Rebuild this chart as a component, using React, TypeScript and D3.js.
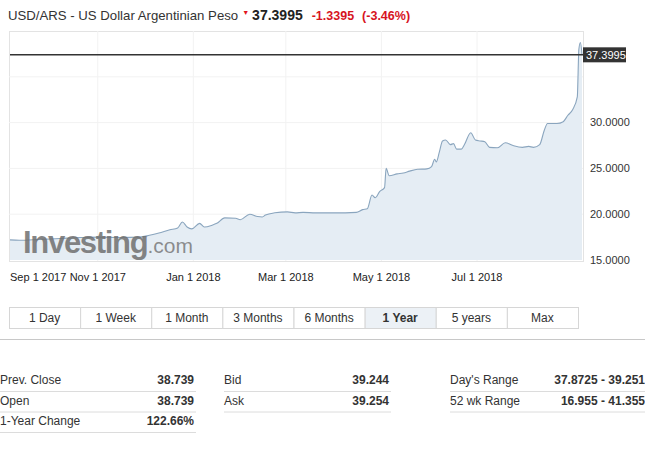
import React from 'react';
import * as d3 from 'd3';

const dates = [
  '2017-09-06','2017-09-12','2017-09-25','2017-10-08','2017-10-21','2017-11-02','2017-11-15','2017-11-28',
  '2017-12-04','2017-12-10','2017-12-17','2017-12-22','2017-12-25','2017-12-28','2017-12-31',
  '2018-01-05','2018-01-08','2018-01-13','2018-01-16','2018-01-21','2018-01-28','2018-01-31',
  '2018-02-06','2018-02-11','2018-02-14','2018-02-16','2018-02-22',
  '2018-03-02','2018-03-07','2018-03-12','2018-03-20','2018-03-29',
  '2018-04-08','2018-04-15','2018-04-19','2018-04-22','2018-04-25','2018-04-27','2018-04-30',
  '2018-05-03','2018-05-04','2018-05-06','2018-05-11','2018-05-15','2018-05-19','2018-05-24','2018-05-30',
  '2018-06-02','2018-06-04','2018-06-05','2018-06-07','2018-06-09','2018-06-11','2018-06-14','2018-06-16',
  '2018-06-18','2018-06-21','2018-06-23','2018-06-27','2018-06-30',
  '2018-07-03','2018-07-06','2018-07-09','2018-07-14','2018-07-19','2018-07-24','2018-07-30',
  '2018-08-03','2018-08-06','2018-08-10','2018-08-13','2018-08-15','2018-08-21','2018-08-25','2018-08-28','2018-08-31',
  '2018-09-03','2018-09-04','2018-09-05','2018-09-06'
];
const values = [
  17.2,17.15,17.25,17.35,17.45,17.5,17.45,17.5,
  17.7,17.95,18.3,18.5,19.15,18.6,18.4,
  19.0,18.6,18.8,19.0,19.6,19.55,19.4,
  20.0,19.75,19.7,19.9,20.15,
  20.25,20.15,20.2,20.15,20.15,
  20.15,20.2,20.5,20.6,22.1,21.8,22.5,
  22.9,25.0,24.2,24.4,24.5,24.7,24.9,24.95,
  25.2,26.0,25.7,26.8,28.0,28.1,27.6,27.7,
  27.1,27.1,27.6,28.9,28.1,
  28.0,27.9,27.3,27.25,27.8,27.5,27.3,
  27.4,27.3,27.6,29.2,29.9,29.9,30.1,30.8,31.4,
  32.8,38.0,38.74,37.4
];

const xTickDates = ['2017-09-01','2017-11-01','2018-01-01','2018-03-01','2018-05-01','2018-07-01'];
const xTickLabels = ['Sep 1 2017','Nov 1 2017','Jan 1 2018','Mar 1 2018','May 1 2018','Jul 1 2018'];
const yTickValues = [15, 20, 25, 30];
const yGridValues = [20, 25, 30, 35];
const lastPrice = 37.3995;
const lastPriceLabel = '37.3995';

const titleText = 'USD/ARS - US Dollar Argentinian Peso';
const priceText = '37.3995';
const changeText = '-1.3395';
const changePctText = '(-3.46%)';

const rangeButtons = ['1 Day','1 Week','1 Month','3 Months','6 Months','1 Year','5 years','Max'];
const selectedRange = '1 Year';

const col1Labels = ['Prev. Close','Open','1-Year Change'];
const col1Values = ['38.739','38.739','122.66%'];
const col2Labels = ['Bid','Ask'];
const col2Values = ['39.244','39.254'];
const col3Labels = ["Day's Range",'52 wk Range'];
const col3Values = ['37.8725 - 39.251','16.955 - 41.355'];

const FONT = 'Arial, "Liberation Sans", Helvetica, sans-serif';

export default function App() {
  const parse = d3.timeParse('%Y-%m-%d');
  const data = dates.map((d, i) => ({ date: parse(d) as Date, value: values[i] }));

  const plot = { left: 9, right: 583, top: 31, bottom: 261 };
  const x = d3.scaleTime()
    .domain([data[0].date, data[data.length - 1].date])
    .range([plot.left + 1, plot.right - 1]);
  const y = d3.scaleLinear().domain([15, 40]).range([260, plot.top]);

  const line = d3.line<any>().x(d => x(d.date)).y(d => y(d.value)).curve(d3.curveMonotoneX);
  const area = d3.area<any>().x(d => x(d.date)).y0(y(15)).y1(d => y(d.value)).curve(d3.curveMonotoneX);

  const ticks = xTickDates.map((d, i) => ({ date: parse(d) as Date, label: xTickLabels[i] }));

  const btnX = d3.scaleBand().domain(rangeButtons).range([9, 578]);

  const rowY = (i: number) => 384 + i * 20.5;

  const renderCol = (labels: string[], vals: string[], lx: number, rx: number, lineEnd: number) =>
    labels.map((l, i) => (
      <g key={l}>
        <text x={lx} y={rowY(i)} fontSize={12} fill="#333" fontFamily={FONT}>{l}</text>
        <text x={rx} y={rowY(i)} fontSize={12} fill="#333" fontWeight="bold" textAnchor="end" fontFamily={FONT}>{vals[i]}</text>
        <line x1={lx} x2={lineEnd} y1={rowY(i) + 7.5} y2={rowY(i) + 7.5} stroke="#dcdcdc" />
      </g>
    ));

  return (
    <svg width={645} height={459} style={{ position: 'absolute', left: 0, top: 0, background: '#fff' }} fontFamily={FONT}>
      {/* Title */}
      <text x={8} y={20} fontFamily={FONT}>
        <tspan fontSize={13.2} fill="#333">{titleText}</tspan>
        <tspan fontSize={7} fill="#e2141e" dx={4} dy={-5}>▼</tspan>
        <tspan fontSize={14} fill="#222" fontWeight="bold" dx={3} dy={5}>{priceText}</tspan>
        <tspan fontSize={12.5} fill="#d7141e" fontWeight="bold" dx={9}>{changeText}</tspan>
        <tspan fontSize={12.5} fill="#d7141e" fontWeight="bold" dx={8}>{changePctText}</tspan>
      </text>

      {/* Plot frame */}
      <rect x={plot.left + 0.5} y={plot.top + 0.5} width={plot.right - plot.left} height={plot.bottom - plot.top} fill="#fff" stroke="#e3e3e3" />
      {yGridValues.map(v => (
        <line key={v} x1={plot.left} x2={plot.right} y1={y(v)} y2={y(v)} stroke="#f2f2f2" />
      ))}
      {ticks.filter(t => x(t.date) > plot.left + 2).map(t => (
        <line key={t.label} x1={x(t.date)} x2={x(t.date)} y1={plot.top} y2={plot.bottom} stroke="#f2f2f2" />
      ))}

      <path d={area(data) || ''} fill="#e5edf4" />
      <path d={line(data) || ''} fill="none" stroke="#8aa5be" strokeWidth={1.1} />

      {/* Watermark */}
      <text x={23} y={253} fontFamily={FONT} fill="#6f6f6f" fillOpacity={0.85}>
        <tspan fontSize={31} fontWeight="bold" letterSpacing={-1.3}>Investing</tspan>
        <tspan fontSize={21} fill="#7a7a7a">.com</tspan>
      </text>

      {/* last price line */}
      <line x1={plot.left + 1} x2={plot.right} y1={y(lastPrice)} y2={y(lastPrice)} stroke="#333" strokeWidth={1.5} />
      <rect x={plot.right} y={y(lastPrice) - 7.5} width={43} height={15} fill="#333" />
      <text x={plot.right + 3} y={y(lastPrice)} dy="0.35em" fontSize={11} fill="#fff" fontFamily={FONT}>{lastPriceLabel}</text>

      {/* y axis labels */}
      {yTickValues.map(v => (
        <text key={v} x={590} y={y(v)} dy="0.35em" fontSize={11} fill="#333" fontFamily={FONT}>{v.toFixed(4)}</text>
      ))}

      {/* x axis labels */}
      {ticks.map(t => {
        const px = x(t.date);
        const clamp = px < plot.left + 30;
        return (
          <text key={t.label} x={clamp ? plot.left + 1 : px} y={281} fontSize={11} fill="#222"
            textAnchor={clamp ? 'start' : 'middle'} fontFamily={FONT}>{t.label}</text>
        );
      })}

      {/* range buttons */}
      {rangeButtons.map(b => {
        const bx = btnX(b) as number;
        const sel = b === selectedRange;
        return (
          <g key={b}>
            <rect x={bx + 0.5} y={307.5} width={btnX.bandwidth()} height={21} fill={sel ? '#ecf1f6' : '#fff'} stroke="#d6d6d6" />
            <text x={bx + btnX.bandwidth() / 2} y={318} dy="0.35em" textAnchor="middle" fontSize={12}
              fill="#333" fontWeight={sel ? 'bold' : 'normal'} fontFamily={FONT}>{b}</text>
          </g>
        );
      })}
      <line x1={0} x2={645} y1={339.5} y2={339.5} stroke="#c8c8c8" />

      {/* stats table */}
      {renderCol(col1Labels, col1Values, 0, 194, 196)}
      {renderCol(col2Labels, col2Values, 224, 389, 391)}
      {renderCol(col3Labels, col3Values, 450, 645, 645)}
    </svg>
  );
}
